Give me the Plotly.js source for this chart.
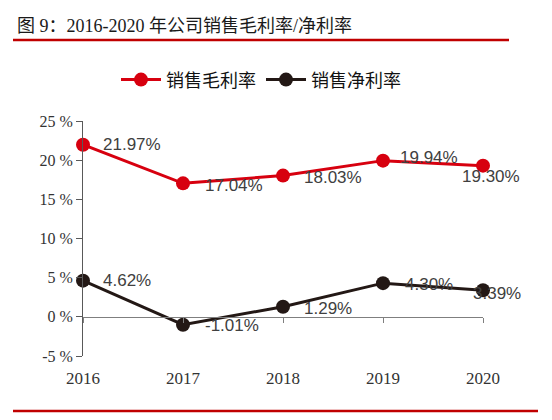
<!DOCTYPE html>
<html>
<head>
<meta charset="utf-8">
<script src="https://cdn.plot.ly/plotly-3.0.1.min.js"></script>
<style>
  html, body { margin: 0; padding: 0; background: #fff; }
  #chart { width: 552px; height: 420px; }
</style>
</head>
<body>
<div id="chart"></div>
<script>
// Данные
const years = [2016, 2017, 2018, 2019, 2020];
const grossMargin = [21.97, 17.04, 18.03, 19.94, 19.3];
const netMargin = [4.62, -1.01, 1.29, 4.3, 3.39];
const grossLabels = ["21.97%", "17.04%", "18.03%", "19.94%", "19.30%"];
const netLabels = ["4.62%", "-1.01%", "1.29%", "4.30%", "3.39%"];
const yTicks = [-5, 0, 5, 10, 15, 20, 25];
const yTickText = ["-5 %", "0 %", "5 %", "10 %", "15 %", "20 %", "25 %"];

const RED = "#d7000f";
const DARK = "#231815";
const LABEL_FONT = { family: "Liberation Sans, Arial, sans-serif", size: 17, color: "#404040" };
const SERIF = "Liberation Serif, Noto Sans CJK SC, serif";

// сдвиги подписей (пиксели) для каждой точки
const grossShift = [[18, 0, "left"], [20, -2, "left"], [19, -2, "left"], [15, 3, "left"], [8, -11, "center"]];
const netShift = [[18, 0, "left"], [20, -1, "left"], [19, -2, "left"], [20, -1, "left"], [-12, -3, "left"]];

function makeLabels(ys, labels, shifts) {
  return ys.map((y, i) => ({
    x: years[i],
    y: y,
    xref: "x",
    yref: "y",
    text: labels[i],
    showarrow: false,
    xanchor: shifts[i][2],
    yanchor: "middle",
    xshift: shifts[i][0],
    yshift: shifts[i][1],
    font: LABEL_FONT,
  }));
}

const traces = [
  {
    x: years,
    y: grossMargin,
    name: "销售毛利率",
    type: "scatter",
    mode: "lines+markers",
    line: { color: RED, width: 3 },
    marker: { color: RED, size: 14 },
    cliponaxis: false,
  },
  {
    x: years,
    y: netMargin,
    name: "销售净利率",
    type: "scatter",
    mode: "lines+markers",
    line: { color: DARK, width: 3 },
    marker: { color: DARK, size: 14 },
    cliponaxis: false,
  },
];

const layout = {
  width: 552,
  height: 420,
  margin: { l: 83, r: 69, t: 121, b: 64 },
  paper_bgcolor: "#fff",
  plot_bgcolor: "#fff",
  showlegend: true,
  title: {
    text: "图 9：2016-2020 年公司销售毛利率/净利率",
    font: { family: SERIF, size: 18, color: "#1a1a1a" },
    xref: "container",
    yref: "container",
    x: 17 / 552,
    xanchor: "left",
    y: 1 - 26 / 420,
    yanchor: "middle",
  },
  legend: {
    orientation: "h",
    x: 0.445,
    xanchor: "center",
    y: 1.175,
    yanchor: "middle",
    font: { family: "Noto Sans CJK SC, sans-serif", size: 18, color: "#111" },
    itemwidth: 40,
    tracegroupgap: 20,
  },
  xaxis: {
    range: [2016, 2020],
    tickvals: years,
    ticktext: years.map(String),
    showgrid: false,
    zeroline: false,
    showline: false,
    ticks: "outside",
    ticklen: 7,
    tickcolor: "rgba(0,0,0,0)",
    tickfont: { family: SERIF, size: 17, color: "#333" },
    fixedrange: true,
  },
  xaxis2: {
    overlaying: "x",
    anchor: "free",
    position: 5 / 30,
    range: [2016, 2020],
    tickvals: years,
    showticklabels: false,
    showgrid: false,
    zeroline: false,
    showline: true,
    linecolor: "#7f7f7f",
    linewidth: 1,
    ticks: "outside",
    ticklen: 5,
    tickcolor: "#7f7f7f",
  },
  yaxis: {
    range: [-5, 25],
    tickmode: "array",
    tickvals: yTicks,
    ticktext: yTickText,
    showgrid: false,
    zeroline: false,
    showline: true,
    linecolor: "#595959",
    linewidth: 1,
    ticks: "outside",
    ticklen: 6,
    tickcolor: "#595959",
    tickfont: { family: SERIF, size: 16, color: "#333" },
    fixedrange: true,
  },
  shapes: [
    {
      type: "line", xref: "paper", yref: "paper",
      x0: -70 / 400, x1: 426 / 400, y0: 316 / 235, y1: 316 / 235,
      line: { color: "#c00000", width: 2.5 },
    },
    {
      type: "line", xref: "paper", yref: "paper",
      x0: -70 / 400, x1: 455 / 400, y0: -55 / 235, y1: -55 / 235,
      line: { color: "#c00000", width: 2.5 },
    },
  ],
  annotations: makeLabels(grossMargin, grossLabels, grossShift).concat(
    makeLabels(netMargin, netLabels, netShift)
  ),
};

// пустая трасса, чтобы xaxis2 был отрисован
traces.push({ x: [], y: [], xaxis: "x2", yaxis: "y", showlegend: false, hoverinfo: "skip" });

Plotly.newPlot("chart", traces, layout, { displayModeBar: false, staticPlot: true });
</script>
</body>
</html>
